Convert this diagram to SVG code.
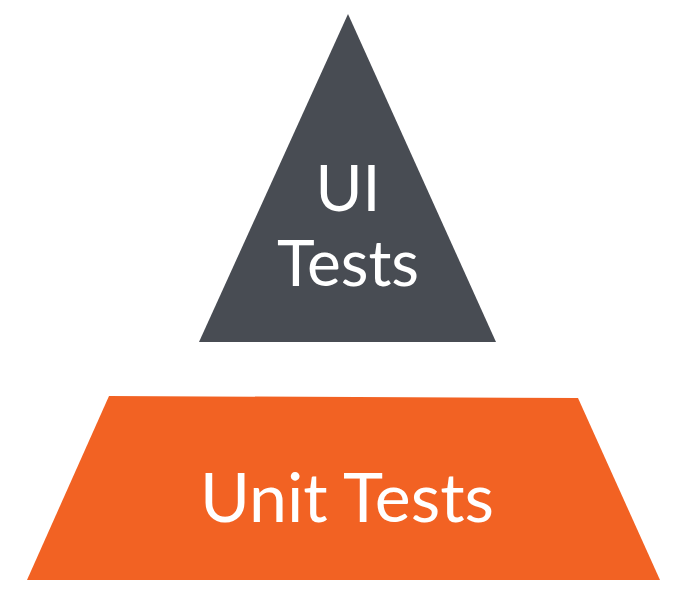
<svg xmlns="http://www.w3.org/2000/svg" width="700" height="605" viewBox="0 0 700 605">
<style>
.lbl{font-family:Lato,"Liberation Sans",sans-serif;fill:#ffffff;text-anchor:middle}
</style>
<rect width="700" height="605" fill="#ffffff"/>
<g id="ui-tests">
<polygon points="348,14 496,342 199,342" fill="#484c53"/>
<text class="lbl" x="348" y="211" font-size="64">UI</text>
<text class="lbl" x="348" y="286" font-size="64">Tests</text>
</g>
<g id="unit-tests">
<polygon points="109,396 578,398 660,580 27,580" fill="#f26223"/>
<text class="lbl" x="347" y="522" font-size="68">Unit Tests</text>
</g>
<g id="connectors"/>
</svg>
